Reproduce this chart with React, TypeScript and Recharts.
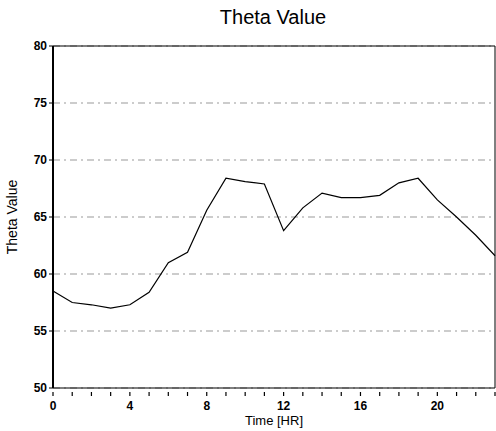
import React from 'react';
import { LineChart, Line, XAxis, YAxis, CartesianGrid, ReferenceLine, Label } from 'recharts';

const hours = [0, 1, 2, 3, 4, 5, 6, 7, 8, 9, 10, 11, 12, 13, 14, 15, 16, 17, 18, 19, 20, 21, 22, 23];
const theta = [58.5, 57.5, 57.3, 57.0, 57.3, 58.4, 61.0, 61.9, 65.6, 68.4, 68.1, 67.9, 63.8, 65.8, 67.1, 66.7, 66.7, 66.9, 68.0, 68.4, 66.5, 65.0, 63.4, 61.6];
const yTicks = [50, 55, 60, 65, 70, 75, 80];
const xLabelTicks = [0, 4, 8, 12, 16, 20];

const data = hours.map((h, i) => ({ hour: h, theta: theta[i] }));

const font = 'Liberation Sans, Arial, sans-serif';

const XTick = (props: any) => {
  const { x, y, payload } = props;
  const labelled = xLabelTicks.includes(payload.value);
  return (
    <g>
      <line x1={x} x2={x} y1={y} y2={y - 4} stroke="#000" strokeWidth={1.2} />
      {labelled && (
        <text x={x} y={y + 14} textAnchor="middle" fontSize={12} fontWeight="bold" fontFamily={font} fill="#000">
          {payload.value}
        </text>
      )}
    </g>
  );
};

export default function App() {
  return (
    <div style={{ position: 'absolute', left: 0, top: 0, width: 496, height: 431, background: '#fff', fontFamily: font }}>
      <div style={{ position: 'absolute', left: 0, width: 546, top: 6, textAlign: 'center', fontSize: 20, color: '#000' }}>
        Theta Value
      </div>
      <LineChart width={496} height={431} data={data} margin={{ top: 46, right: 1, left: 0, bottom: 0 }}>
        <CartesianGrid horizontal vertical={false} stroke="#999" strokeDasharray="7 4 2 4" />
        <XAxis
          dataKey="hour"
          type="number"
          domain={[0, 23]}
          ticks={hours}
          interval={0}
          height={43}
          axisLine={{ stroke: '#000', strokeWidth: 1.2 }}
          tickLine={false}
          tick={<XTick />}
        >
          <Label value="Time [HR]" position="insideBottom" offset={6} fontSize={13} fill="#000" fontFamily={font} />
        </XAxis>
        <YAxis
          domain={[50, 80]}
          ticks={yTicks}
          width={53}
          axisLine={{ stroke: '#000', strokeWidth: 2 }}
          tickLine={{ stroke: '#000' }}
          tickSize={4}
          tick={{ fontSize: 12, fontWeight: 'bold', fill: '#000', fontFamily: font }}
        >
          <Label value="Theta Value" angle={-90} position="insideLeft" offset={12} fontSize={14} fill="#000" fontFamily={font} style={{ textAnchor: 'middle' }} />
        </YAxis>
        <ReferenceLine y={80} stroke="#000" strokeWidth={1.2} />
        <ReferenceLine x={23} stroke="#000" strokeWidth={1} />
        <Line type="linear" dataKey="theta" stroke="#000" strokeWidth={1.2} dot={false} isAnimationActive={false} />
      </LineChart>
    </div>
  );
}
